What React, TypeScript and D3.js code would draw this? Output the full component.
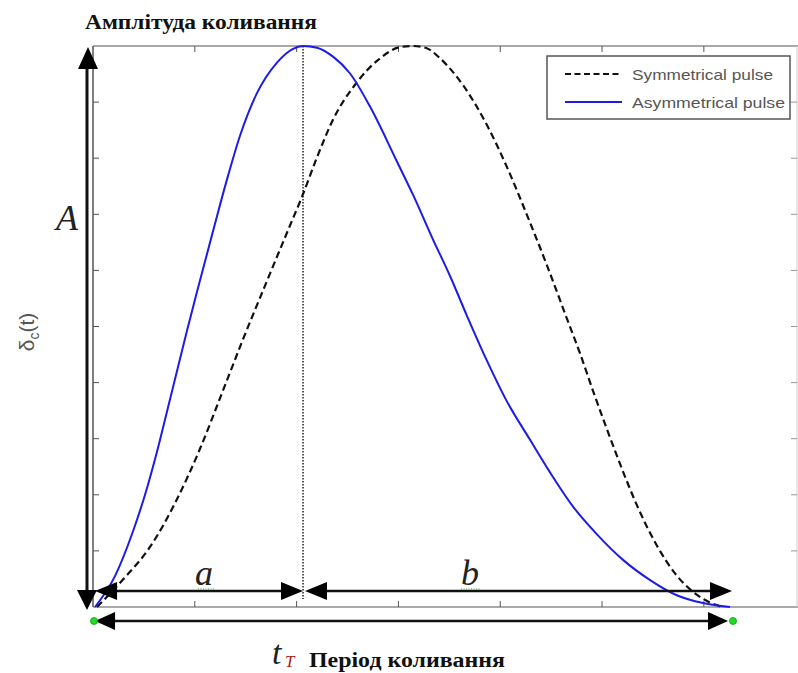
import React from "react";
import * as d3 from "d3";

// ---- data (x in axis-tick units, y as fraction of amplitude A) ----
const asymT = [0.02, 0.216, 0.393, 0.511, 0.626, 0.756, 0.92, 1.019, 1.179, 1.313, 1.444, 1.608, 1.805, 1.965, 2.063, 2.2, 2.358, 2.525, 2.721, 2.983, 3.143, 3.34, 3.507, 3.671, 3.867, 4.064, 4.293, 4.489, 4.715, 4.948, 5.206, 5.472, 5.734, 5.992, 6.257];
const asymV = [0.0, 0.055, 0.135, 0.2, 0.275, 0.37, 0.49, 0.56, 0.67, 0.76, 0.84, 0.915, 0.97, 0.995, 1.0, 0.997, 0.981, 0.951, 0.892, 0.795, 0.735, 0.655, 0.59, 0.52, 0.44, 0.367, 0.298, 0.24, 0.179, 0.13, 0.084, 0.048, 0.021, 0.007, 0.0];

const symT = [0.039, 0.295, 0.56, 0.822, 1.051, 1.277, 1.473, 1.706, 1.935, 2.05, 2.197, 2.361, 2.591, 2.819, 3.016, 3.143, 3.278, 3.409, 3.635, 3.867, 4.064, 4.26, 4.457, 4.653, 4.784, 4.912, 5.046, 5.177, 5.341, 5.537, 5.734, 5.93, 6.061, 6.179];
const symV = [0.0, 0.049, 0.107, 0.191, 0.282, 0.386, 0.477, 0.58, 0.68, 0.73, 0.8, 0.87, 0.935, 0.978, 0.998, 1.0, 0.996, 0.978, 0.93, 0.86, 0.785, 0.7, 0.61, 0.515, 0.452, 0.385, 0.318, 0.255, 0.182, 0.11, 0.056, 0.022, 0.008, 0.0];

const xTicks = [0, 1, 2, 3, 4, 5, 6];
const yTicks = [0, 0.1, 0.2, 0.3, 0.4, 0.5, 0.6, 0.7, 0.8, 0.9, 1.0];

const pulseStart = 0.02;
const peakAsym = 2.063;
const pulseEnd = 6.257;

const titleText = "Амплітуда коливання";
const xLabelText = "Період коливання";
const legendLabels = ["Symmetrical pulse", "Asymmetrical pulse"];

const W = 798;
const H = 673;
const BLUE = "#1c1ce6";

function Arrowhead({ x, y, dir, len = 22, half = 9 }: { x: number; y: number; dir: "l" | "r" | "u" | "d"; len?: number; half?: number }) {
  let pts: number[][];
  if (dir === "l") pts = [[x, y], [x + len, y - half], [x + len, y + half]];
  else if (dir === "r") pts = [[x, y], [x - len, y - half], [x - len, y + half]];
  else if (dir === "u") pts = [[x, y], [x - half, y + len], [x + half, y + len]];
  else pts = [[x, y], [x - half, y - len], [x + half, y - len]];
  return <polygon points={pts.map((p) => p.join(",")).join(" ")} fill="#000" />;
}

export default function App() {
  const x = d3.scaleLinear().domain([0, 6.915]).range([93, 797]);
  const y = d3.scaleLinear().domain([0, 1]).range([607, 46]);

  const line = d3
    .line<[number, number]>()
    .x((d) => x(d[0]))
    .y((d) => y(d[1]))
    .curve(d3.curveMonotoneX);

  const asymPath = line(asymT.map((t, i) => [t, asymV[i]] as [number, number])) || "";
  const symPath = line(symT.map((t, i) => [t, symV[i]] as [number, number])) || "";

  const axisColor = "#555";
  const y0 = y(0);
  const arrowY1 = y0 - 16;
  const arrowY2 = y0 + 14;

  return (
    <svg width={W} height={H} style={{ position: "absolute", left: 0, top: 0, background: "#fff" }}>
      <rect x={0} y={0} width={W} height={H} fill="#fff" />

      {/* title */}
      <text x={85} y={29} fontFamily="'Liberation Serif', 'Times New Roman', serif" fontWeight="bold" fontSize={20} textLength={232} lengthAdjust="spacingAndGlyphs" fill="#111">
        {titleText}
      </text>

      {/* axes box */}
      <line x1={x(0)} x2={W} y1={y(1)} y2={y(1)} stroke={axisColor} strokeWidth={1.2} />
      <line x1={x(0)} x2={W} y1={y0} y2={y0} stroke={axisColor} strokeWidth={1.2} />
      <line x1={x(0)} x2={x(0)} y1={y(1)} y2={y0} stroke={axisColor} strokeWidth={1.5} />
      <line x1={797} x2={797} y1={y(1)} y2={y0} stroke="#ccc" strokeWidth={1} />

      {/* ticks */}
      {xTicks.slice(1).map((t) => (
        <g key={"xt" + t}>
          <line x1={x(t)} x2={x(t)} y1={y0} y2={y0 - 6} stroke={axisColor} strokeWidth={1} />
          <line x1={x(t)} x2={x(t)} y1={y(1)} y2={y(1) + 6} stroke={axisColor} strokeWidth={1} />
        </g>
      ))}
      {yTicks.slice(1, -1).map((v) => (
        <g key={"yt" + v}>
          <line x1={x(0)} x2={x(0) + 6} y1={y(v)} y2={y(v)} stroke={axisColor} strokeWidth={1} />
          <line x1={797} x2={791} y1={y(v)} y2={y(v)} stroke="#999" strokeWidth={1} />
        </g>
      ))}

      {/* vertical amplitude arrow */}
      <line x1={87} x2={87} y1={62} y2={596} stroke="#111" strokeWidth={3} />
      <Arrowhead x={88} y={47} dir="u" len={22} half={10} />
      <Arrowhead x={87} y={610} dir="d" len={20} half={10} />

      {/* dotted line at peak of asymmetric pulse */}
      <line x1={x(peakAsym)} x2={x(peakAsym)} y1={y(1)} y2={arrowY1 + 8} stroke="#333" strokeWidth={1.6} strokeDasharray="1.5,1.5" />

      {/* curves */}
      <path d={symPath} fill="none" stroke="#111" strokeWidth={2.2} strokeDasharray="7,4" />
      <path d={asymPath} fill="none" stroke={BLUE} strokeWidth={2} />

      {/* a and b arrows */}
      <line x1={x(pulseStart) + 10} x2={x(peakAsym) - 10} y1={arrowY1} y2={arrowY1} stroke="#111" strokeWidth={2.5} />
      <Arrowhead x={x(pulseStart)} y={arrowY1} dir="l" />
      <Arrowhead x={x(peakAsym)} y={arrowY1} dir="r" />
      <line x1={x(peakAsym) + 12} x2={x(pulseEnd) - 10} y1={arrowY1} y2={arrowY1} stroke="#111" strokeWidth={2.5} />
      <Arrowhead x={x(peakAsym) + 2} y={arrowY1} dir="l" />
      <Arrowhead x={x(pulseEnd) + 2} y={arrowY1} dir="r" />

      {/* period arrow */}
      <line x1={x(pulseStart) + 10} x2={x(pulseEnd) - 10} y1={arrowY2} y2={arrowY2} stroke="#111" strokeWidth={2.5} />
      <Arrowhead x={x(pulseStart)} y={arrowY2} dir="l" len={20} />
      <Arrowhead x={x(pulseEnd) - 2} y={arrowY2} dir="r" len={20} />
      <circle cx={x(0) + 1} cy={arrowY2} r={3.5} fill="#22dd22" stroke="#119911" strokeWidth={0.8} />
      <circle cx={x(pulseEnd) + 3} cy={arrowY2} r={3.5} fill="#22dd22" stroke="#119911" strokeWidth={0.8} />

      {/* a, b labels */}
      <text x={204} y={585} textAnchor="middle" fontFamily="'Liberation Serif', 'Times New Roman', serif" fontStyle="italic" fontSize={36} fill="#222">
        a
      </text>
      <line x1={198} x2={214} y1={589} y2={589} stroke="#3a3" strokeWidth={1.2} strokeDasharray="1,1.5" />
      <text x={470} y={585} textAnchor="middle" fontFamily="'Liberation Serif', 'Times New Roman', serif" fontStyle="italic" fontSize={36} fill="#222">
        b
      </text>
      <line x1={461} x2={480} y1={589} y2={589} stroke="#3a3" strokeWidth={1.2} strokeDasharray="1,1.5" />

      {/* A label */}
      <text x={67} y={230} textAnchor="middle" fontFamily="'Liberation Serif', 'Times New Roman', serif" fontStyle="italic" fontSize={36} fill="#222">
        A
      </text>

      {/* y axis label δc(t) */}
      <text transform="translate(34,332) rotate(-90)" textAnchor="middle" fontFamily="'Liberation Sans', Arial, sans-serif" fontSize={21} fill="#555">
        δ<tspan fontSize={14} dy={5}>c</tspan>
        <tspan dy={-5}>(t)</tspan>
      </text>

      {/* x label */}
      <text x={272} y={664} fontFamily="'Liberation Serif', 'Times New Roman', serif" fontStyle="italic" fontSize={34} fill="#222">
        t
      </text>
      <text x={285} y={667} fontFamily="'Liberation Serif', 'Times New Roman', serif" fontStyle="italic" fontSize={17} fill="#a22">
        T
      </text>
      <text x={309} y={667} fontFamily="'Liberation Serif', 'Times New Roman', serif" fontWeight="bold" fontSize={20} textLength={196} lengthAdjust="spacingAndGlyphs" fill="#111">
        {xLabelText}
      </text>

      {/* legend */}
      <rect x={547} y={56} width={243} height={63} fill="#fff" stroke="#555" strokeWidth={1.5} />
      <line x1={565} x2={622} y1={74} y2={74} stroke="#111" strokeWidth={2.2} strokeDasharray="6,3.5" />
      <line x1={565} x2={622} y1={102} y2={102} stroke={BLUE} strokeWidth={2} />
      <text x={632} y={80} fontFamily="'Liberation Sans', Arial, sans-serif" fontSize={15} textLength={141} lengthAdjust="spacingAndGlyphs" fill="#555">
        {legendLabels[0]}
      </text>
      <text x={632} y={108} fontFamily="'Liberation Sans', Arial, sans-serif" fontSize={15} textLength={153} lengthAdjust="spacingAndGlyphs" fill="#555">
        {legendLabels[1]}
      </text>
    </svg>
  );
}
